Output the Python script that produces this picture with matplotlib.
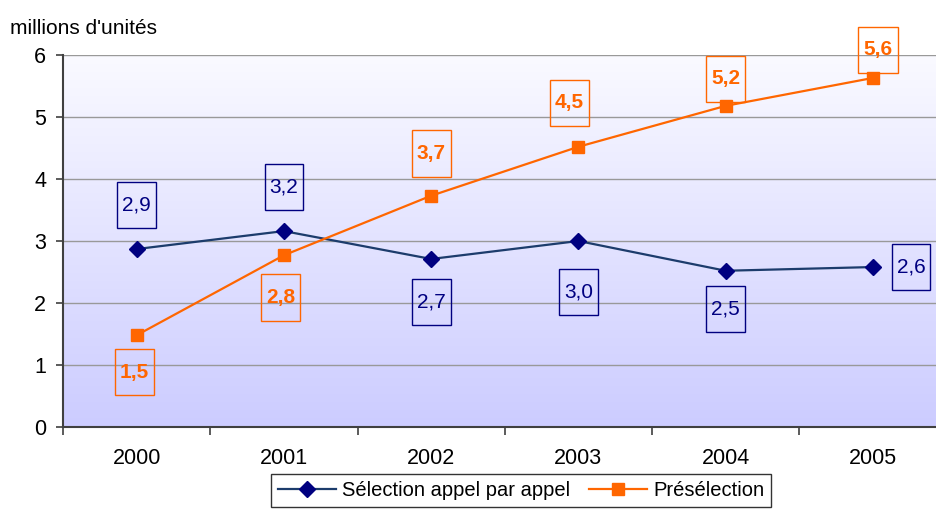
import numpy as np
import matplotlib.pyplot as plt
from matplotlib.colors import LinearSegmentedColormap
from matplotlib.path import Path

years = ['2000', '2001', '2002', '2003', '2004', '2005']
selection = [2.87, 3.16, 2.71, 3.00, 2.52, 2.58]
preselection = [1.48, 2.77, 3.73, 4.52, 5.18, 5.63]
series_names = ['Sélection appel par appel', 'Présélection']

# label offsets in pixels (dx, dy) relative to each point
sel_offsets = [(0, 44), (0, 44), (0, -43), (0, -51), (0, -38), (38, 0)]
pre_offsets = [(-2, -37), (-3, -42), (0, 42), (-9, 44), (0, 27), (5, 28)]

plt.rcParams['font.family'] = ['Liberation Sans', 'DejaVu Sans']


def tall_box(x0, y0, width, height, mutation_size):
    # label box: taller than wide, like the original
    px, py = 0.24 * mutation_size, 0.66 * mutation_size
    x0, y0 = x0 - px, y0 - py
    x1, y1 = x0 + width + 2 * px, y0 + height + 2 * py
    return Path([(x0, y0), (x1, y0), (x1, y1), (x0, y1), (x0, y0)], closed=True)


fig = plt.figure(figsize=(9.37, 5.12), dpi=100)
ax = fig.add_axes([63 / 937, 1 - 427 / 512, 1 - 63 / 937, (427 - 55) / 512])

x = np.arange(len(years))
xlim = (-0.5, 5.435)

# gradient background
cmap = LinearSegmentedColormap.from_list('bg', ['#CCCCFF', '#FAFAFF'])
grad = np.linspace(0, 1, 256).reshape(-1, 1)
ax.imshow(grad, extent=[xlim[0], xlim[1], 0, 6], origin='lower', aspect='auto',
          cmap=cmap, zorder=0)

for yv in range(1, 7):
    ax.axhline(yv, color='#999999', lw=1, zorder=1)

ax.plot(x, selection, color='#1c3c6c', lw=1.6, marker='D', ms=8.5,
        mfc='#000080', mec='#000080', label=series_names[0], zorder=3)
ax.plot(x, preselection, color='#FF6600', lw=1.6, marker='s', ms=9,
        mfc='#FF6600', mec='#FF6600', label=series_names[1], zorder=3)


def fmt(v):
    return f"{v:.1f}".replace('.', ',')


for xi, v, off in zip(x, selection, sel_offsets):
    ax.annotate(fmt(v), (xi, v), xytext=off, textcoords='offset pixels',
                ha='center', va='center', fontsize=15, color='#000080',
                bbox=dict(boxstyle=tall_box, fc='none', ec='#000080', lw=1),
                zorder=4)
for xi, v, off in zip(x, preselection, pre_offsets):
    ax.annotate(fmt(v), (xi, v), xytext=off, textcoords='offset pixels',
                ha='center', va='center', fontsize=15, color='#FF6600',
                fontweight='bold',
                bbox=dict(boxstyle=tall_box, fc='none', ec='#FF6600', lw=1),
                zorder=4)

ax.set_yticks(range(0, 7))
ax.tick_params(axis='y', length=5, width=1.2, color='#404040', labelsize=15.5, pad=7)
ax.set_xticks(np.arange(-0.5, 6, 1))
ax.set_xticklabels([])
ax.set_xticks(x, minor=True)
ax.set_xticklabels(years, minor=True)
ax.tick_params(axis='x', which='major', length=6, width=1.2, color='#404040')
ax.tick_params(axis='x', which='minor', length=0, labelsize=15.5, pad=15)
ax.set_xlim(*xlim)
ax.set_ylim(0, 6)

for s in ['top', 'right']:
    ax.spines[s].set_visible(False)
for s in ['left', 'bottom']:
    ax.spines[s].set_color('#404040')
    ax.spines[s].set_linewidth(1.5)

fig.text(10 / 937, 1 - 28 / 512, "millions d'unités", fontsize=15, va='center')

leg = fig.legend(loc='upper center', bbox_to_anchor=(521 / 937, 1 - 474 / 512),
                 ncol=2, fontsize=14.5, frameon=True, fancybox=False,
                 handlelength=2.9, columnspacing=0.9, handletextpad=0.3,
                 borderpad=0.35, borderaxespad=0.0)
leg.get_frame().set_edgecolor('black')
leg.get_frame().set_linewidth(1)

fig.savefig('out.png', dpi=100)
